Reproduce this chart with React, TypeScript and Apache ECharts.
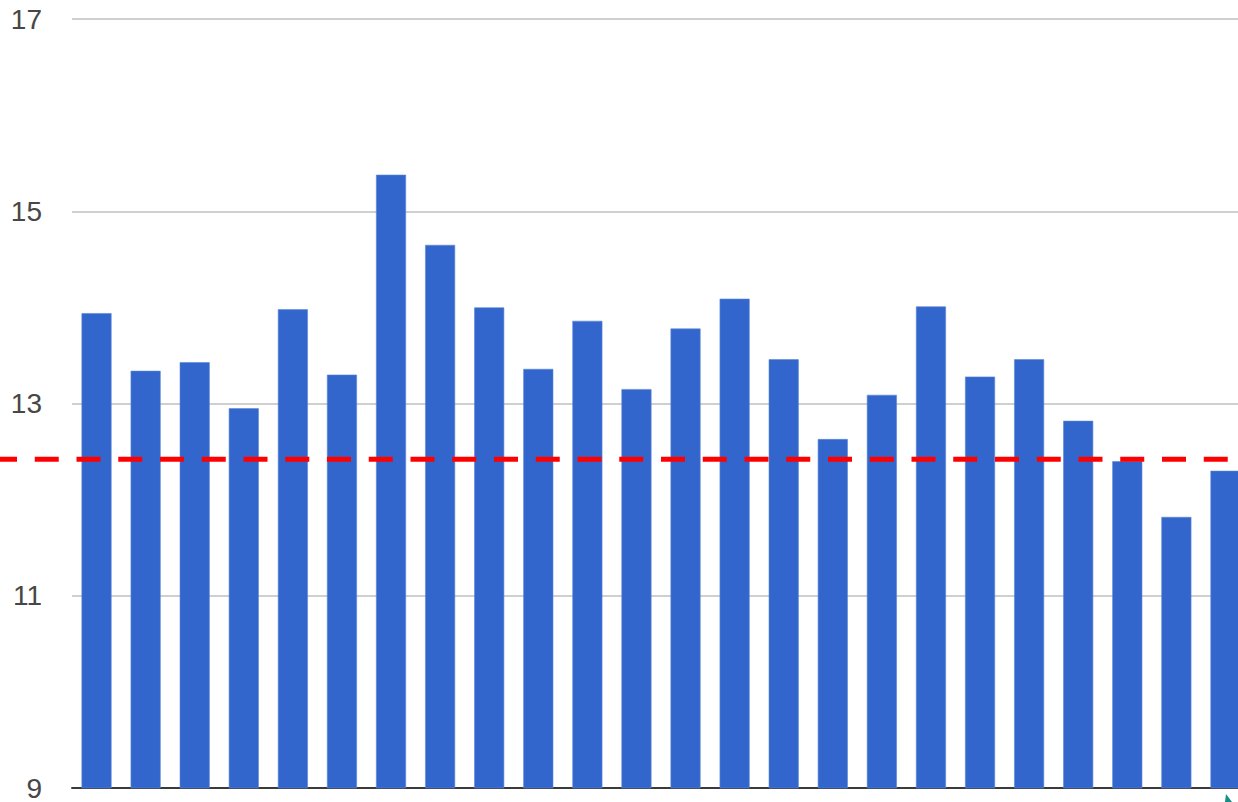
import React, { useEffect, useRef } from "react";
import * as echarts from "echarts";

const categories: string[] = [
  "1", "2", "3", "4", "5", "6", "7", "8", "9", "10", "11", "12",
  "13", "14", "15", "16", "17", "18", "19", "20", "21", "22", "23", "24",
];
const values: number[] = [
  13.94, 13.34, 13.43, 12.95, 13.98, 13.3, 15.38, 14.65, 14.0, 13.36, 13.86, 13.15,
  13.78, 14.09, 13.46, 12.63, 13.09, 14.01, 13.28, 13.46, 12.82, 12.4, 11.82, 12.3,
];
const referenceLevel = 12.42;
const yMin = 9;
const yMax = 17;
const yInterval = 2;

export default function App() {
  const ref = useRef<HTMLDivElement>(null);
  useEffect(() => {
    if (!ref.current) return;
    const chart = echarts.init(ref.current, undefined, { renderer: "svg" });
    chart.setOption({
      animation: false,
      backgroundColor: "#ffffff",
      grid: { left: 72, right: 0, top: 19, bottom: 14, containLabel: false },
      xAxis: {
        type: "category",
        data: categories,
        axisLabel: { show: false },
        axisTick: { show: false },
        axisLine: { show: true, lineStyle: { color: "#3a3a3a", width: 2 } },
        splitLine: { show: false },
      },
      yAxis: {
        type: "value",
        min: yMin,
        max: yMax,
        interval: yInterval,
        axisLine: { show: false },
        axisTick: { show: false },
        axisLabel: {
          fontSize: 28,
          color: "#474747",
          fontFamily: "Liberation Sans, Arial, sans-serif",
          margin: 30,
        },
        splitLine: { lineStyle: { color: "#cfcfcf", width: 2 } },
      },
      series: [
        {
          type: "bar",
          data: values,
          barWidth: 30,
          itemStyle: { color: "#3366cc", borderColor: "#5a86d6", borderWidth: 0.6 },
        },
      ],
    });
    const y = chart.convertToPixel({ yAxisIndex: 0 }, referenceLevel) as number;
    chart.setOption({
      graphic: [
        {
          type: "line",
          z: 100,
          shape: { x1: 0, y1: y, x2: 1238, y2: y },
          style: {
            stroke: "#ff0000",
            lineWidth: 5,
            lineDash: [24, 17.75],
            lineDashOffset: 7,
          },
        },
        {
          type: "polygon",
          z: 100,
          shape: { points: [[1225, 802], [1226, 794], [1232, 802]] },
          style: { fill: "#178f86" },
        },
      ],
    });
    return () => chart.dispose();
  }, []);
  return (
    <div
      style={{
        position: "fixed",
        left: 0,
        top: 0,
        width: 1238,
        height: 802,
        overflow: "hidden",
        background: "#fff",
      }}
    >
      <div ref={ref} style={{ width: 1250, height: 802 }} />
    </div>
  );
}
